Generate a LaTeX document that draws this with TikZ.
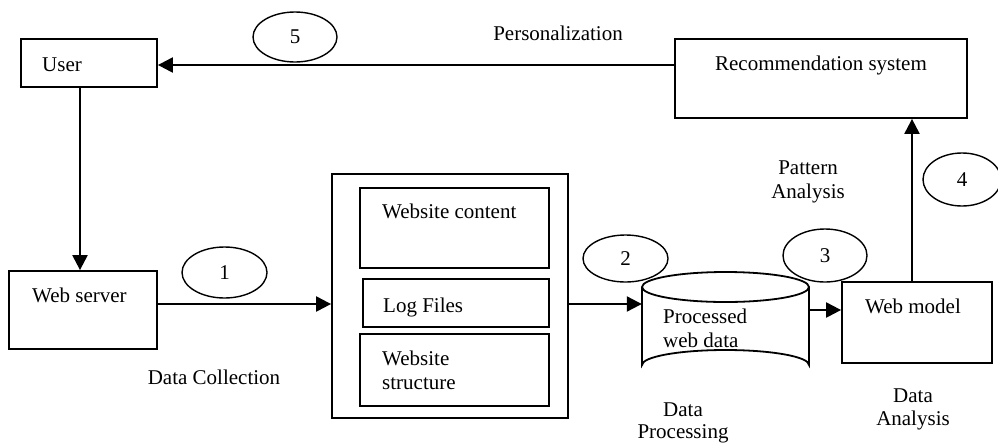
\documentclass[tikz,border=0pt]{standalone}
\usepackage{fontspec}
\setmainfont{Liberation Serif}
\usetikzlibrary{shapes.geometric,arrows.meta}
\begin{document}
\begin{tikzpicture}[x=1pt,y=-1pt,
  every node/.style={font=\fontsize{21}{24}\selectfont, inner sep=0pt},
  box/.style={draw, line width=1.8pt, rectangle},
  oval/.style={draw, line width=1.4pt, ellipse},
  txt/.style={anchor=base west},
  ctxt/.style={anchor=base, align=center},
  arr/.style={line width=2.2pt, -{Triangle[length=15pt,width=15pt]}}]
\useasboundingbox (0,0) rectangle (998,445);
% boxes
\node[box, minimum width=136pt, minimum height=48pt] (user) at (89,63) {};
\node[txt] (usertxt) at (42,71) {User};
\node[box, minimum width=292pt, minimum height=79pt] (rec) at (821,78.5) {};
\node[ctxt] (rectxt) at (821,70) {Recommendation system};
\node[box, minimum width=148pt, minimum height=78pt] (ws) at (83,310) {};
\node[txt] (wstxt) at (32,302) {Web server};
\node[box, minimum width=236pt, minimum height=244pt] (outer) at (450,296) {};
\node[box, minimum width=189pt, minimum height=80pt] (wc) at (454.5,228) {};
\node[txt] (wctxt) at (382,218) {Website content};
\node[box, minimum width=186pt, minimum height=48pt] (lf) at (456,303) {};
\node[txt] (lftxt) at (383,312) {Log Files};
\node[box, minimum width=189pt, minimum height=72pt] (wst) at (454.5,370) {};
\node[txt] (wsttxt) at (382,365) {Website};
\node[txt] (wsttxt2) at (382,389) {structure};
\node[box, minimum width=150pt, minimum height=81pt] (wm) at (917,322.5) {};
\node[txt] (wmtxt) at (865,313) {Web model};
% cylinder
\node[minimum width=167pt, minimum height=108pt] (cyl) at (725.5,326) {};
\draw[line width=1.8pt] (642,287) -- (642,365) arc[start angle=180, end angle=360, x radius=83.5, y radius=15] -- (809,287);
\draw[line width=1.8pt] (725.5,287) ellipse[x radius=83.5, y radius=15];
\node[txt] (cyltxt) at (663,323) {Processed};
\node[txt] (cyltxt2) at (663,347) {web data};
% ovals
\node[oval, minimum width=84pt, minimum height=50pt] (o5) at (295,37) {5};
\node[oval, minimum width=85pt, minimum height=51pt] (o1) at (224.5,272.5) {1};
\node[oval, minimum width=85pt, minimum height=47pt] (o2) at (625.5,258.5) {2};
\node[oval, minimum width=84pt, minimum height=53pt] (o3) at (825,255.5) {3};
\node[oval, minimum width=78pt, minimum height=53pt] (o4) at (962,179.5) {4};
% labels
\node[ctxt] (pers) at (558,40) {Personalization};
\node[ctxt] (pat1) at (808,174) {Pattern};
\node[ctxt] (pat2) at (808,198) {Analysis};
\node[ctxt] (dc) at (214,384) {Data Collection};
\node[ctxt] (dp1) at (683,416) {Data};
\node[ctxt] (dp2) at (683,438) {Processing};
\node[ctxt] (da1) at (913,402) {Data};
\node[ctxt] (da2) at (913,425) {Analysis};
% connectors
\draw[arr] (rec.west |- 0,65) -- (user.east |- 0,65);
\draw[arr] (user.south -| 80,0) -- (ws.north -| 80,0);
\draw[arr] (ws.east |- 0,304) -- (outer.west |- 0,304);
\draw[arr] (outer.east |- 0,304) -- (cyl.west |- 0,304);
\draw[arr] (cyl.east |- 0,310) -- (wm.west |- 0,310);
\draw[arr] (wm.north -| 912,0) -- (rec.south -| 912,0);
\end{tikzpicture}
\end{document}
